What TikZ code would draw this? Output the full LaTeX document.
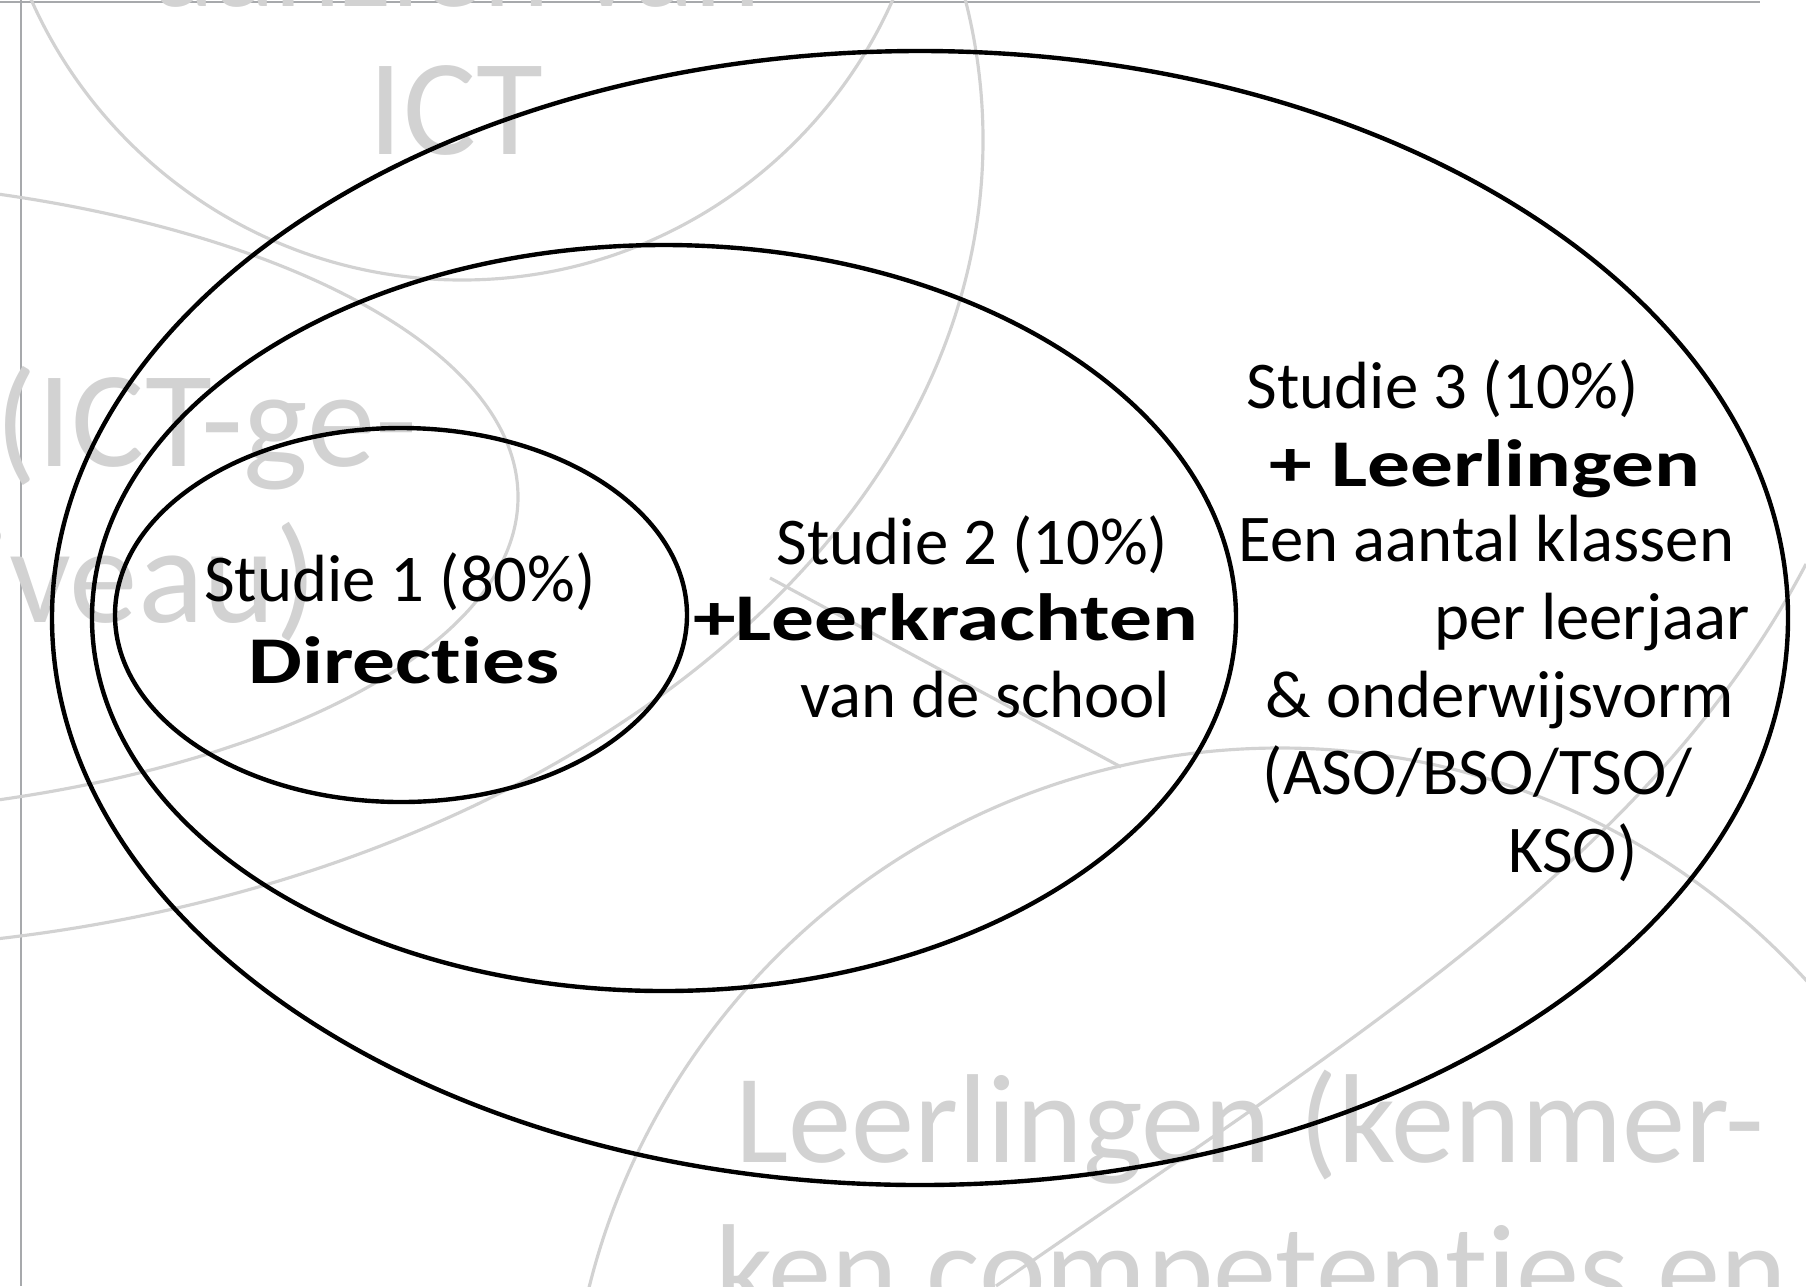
\documentclass[tikz,border=0pt]{standalone}
\usepackage{fontspec}
\setmainfont{Carlito}[Ligatures=NoCommon]
\newfontfamily\widebf{Carlito}[FakeStretch=1.28,Ligatures=NoCommon]
\definecolor{ghost}{HTML}{D2D2D2}
\definecolor{frame}{HTML}{A7A9AC}

\begin{document}
\begin{tikzpicture}[x=0.1mm,y=-0.1mm,
  ring/.style={line width=1.25pt,black},
  faint/.style={line width=0.9pt,ghost},
  lbl/.style={inner sep=0pt,font=\fontsize{19}{23}\selectfont},
  lblb/.style={inner sep=0pt,font=\fontsize{19}{23}\selectfont\widebf\bfseries},
  ghosttxt/.style={inner sep=0pt,text=ghost,font=\fontsize{36}{43}\selectfont},
  ghostbig/.style={ghosttxt,font=\fontsize{39}{47}\selectfont}]
  \useasboundingbox (0,0) rectangle (1806,1286);
  \clip (0,0) rectangle (1806,1286);

  % background
  %frame
  \draw[frame,line width=0.55pt] (0,2) -- (1760,2) (21,0) -- (21,1286);
  %circles
  \draw[faint] (462,-191) circle (471);
  \draw[faint] (-250,497) ellipse (768 and 320);
  \draw[faint] (-200,140) ellipse (1183 and 810);
  \draw[faint] (1280,1460) circle (712);
  \draw[faint] (996,1286) .. controls (1350,1040) and (1650,860) .. (1806,564);
  \draw[faint] (770,578) -- (1121,767);
  %labels
  \node[ghosttxt,anchor=base] (ghA1) at (457,6) {aanzien van};
  \node[ghostbig,anchor=base] (ghA2) at (456,154) {ICT};
  \node[ghostbig,anchor=base east] (ghB1) at (418,466) {(ICT-ge-};
  \node[ghostbig,anchor=base east] (ghB2) at (318,622) {niveau)};
  \node[ghosttxt,anchor=base] (ghD1) at (1250,1162) {Leerlingen (kenmer-};
  \node[ghosttxt,anchor=base] (ghD2) at (1251,1312) {ken competenties en};

  % studies
  %ellipses
  \draw[ring] (920,618) ellipse (868 and 567);
  \draw[ring] (664,618) ellipse (572 and 373);
  \draw[ring] (401,615) ellipse (286 and 187);
  %labels
  \node[lbl,anchor=base] (s1a) at (400,601) {Studie 1 (80\%)};
  \node[lblb,anchor=base] (s1b) at (404,683) {Directies};
  \node[lbl,anchor=base east] (s2a) at (1169,564) {Studie 2 (10\%)};
  \node[lblb,anchor=base east] (s2b) at (1199,640) {+Leerkrachten};
  \node[lbl,anchor=base east] (s2c) at (1171,717) {van de school};
  \node[lbl,anchor=base east] (s3a) at (1639,408) {Studie 3 (10\%)};
  \node[lblb,anchor=base east] (s3b) at (1701,486) {+ Leerlingen};
  \node[lbl,anchor=base east] (s3c) at (1735,561) {Een aantal klassen};
  \node[lbl,anchor=base east] (s3d) at (1750,639) {per leerjaar};
  \node[lbl,anchor=base east] (s3e) at (1735,717) {\& onderwijsvorm};
  \node[lbl,anchor=base east] (s3f) at (1693,794) {(ASO/BSO/TSO/};
  \node[lbl,anchor=base east] (s3g) at (1638,872) {KSO)};
\end{tikzpicture}
\end{document}
